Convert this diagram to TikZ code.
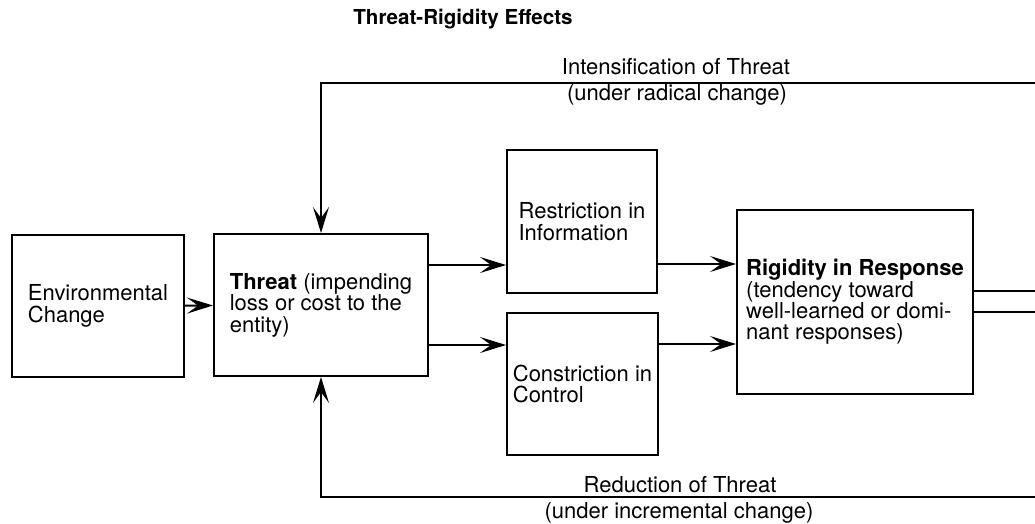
\documentclass[tikz,border=0pt]{standalone}
\usepackage{fontspec}
\setmainfont{TeX Gyre Heros}
\usetikzlibrary{arrows.meta}

\tikzset{
	block/.style={draw, line width=1pt, align=left, inner sep=0pt, font=\fontsize{11}{10.7}\selectfont},
	flow/.style={line width=1pt, -{Stealth[length=13pt, width=8pt, inset=5.5pt]}},
	plain/.style={line width=1pt},
	lbl/.style={font=\fontsize{11}{13}\selectfont, inner sep=0pt, anchor=base},
}

\begin{document}
\begin{tikzpicture}[x=0.5pt, y=-0.5pt]
	\useasboundingbox (0,0) rectangle (1035,524);
	\node[lbl, font=\bfseries\fontsize{10.3}{12}\selectfont] (title) at (463,25) {Threat-Rigidity Effects};
	% boxes
	\node[block, minimum width=86pt, minimum height=71pt] (env) at (98,306) {Environmental\\Change};
	\node[block, minimum width=107pt, minimum height=71pt] (threat) at (321,305) {\textbf{Threat} (impending\\loss or cost to the\\entity)};
	\node[block, minimum width=75pt, minimum height=71.5pt] (restr) at (582,221.5) {Restriction in\\Information};
	\node[block, minimum width=75.5pt, minimum height=71pt] (constr) at (582.5,384) {Constriction in\\Control};
	\node[block, minimum width=118pt, minimum height=92pt] (rigid) at (855,302) {\textbf{Rigidity in Response}\\(tendency toward\\well-learned or domi-\\nant responses)};
	% right edge of the page
	\coordinate (topR) at (1035,83);
	\coordinate (midR) at (1035,302);
	\coordinate (botR) at (1035,497);
	% forward flow
	\draw[flow] (env) -- (threat);
	\draw[flow] ([yshift=20pt]threat.east) -- ([yshift=20pt]threat.east -| restr.west);
	\draw[flow] ([yshift=-20pt]threat.east) -- ([yshift=-20pt]threat.east -| constr.west);
	\draw[flow] ([yshift=19pt]rigid.west -| restr.east) -- ([yshift=19pt]rigid.west);
	\draw[flow] ([yshift=-21pt]rigid.west -| constr.east) -- ([yshift=-21pt]rigid.west);
	\foreach \dy in {5.5pt, -5pt}
		\draw[plain] ([yshift=\dy]rigid.east) -- ([yshift=\dy]midR);
	% feedback loops
	\draw[flow] (topR) -- (threat.north |- topR) -- (threat.north);
	\draw[flow] (botR) -- (threat.south |- botR) -- (threat.south);
	\node[lbl] (intens) at (676,75) {Intensification of Threat};
	\node[lbl] (radical) at (677,101) {(under radical change)};
	\node[lbl] (reduct) at (680,492) {Reduction of Threat};
	\node[lbl] (increm) at (679,518) {(under incremental change)};
\end{tikzpicture}
\end{document}
